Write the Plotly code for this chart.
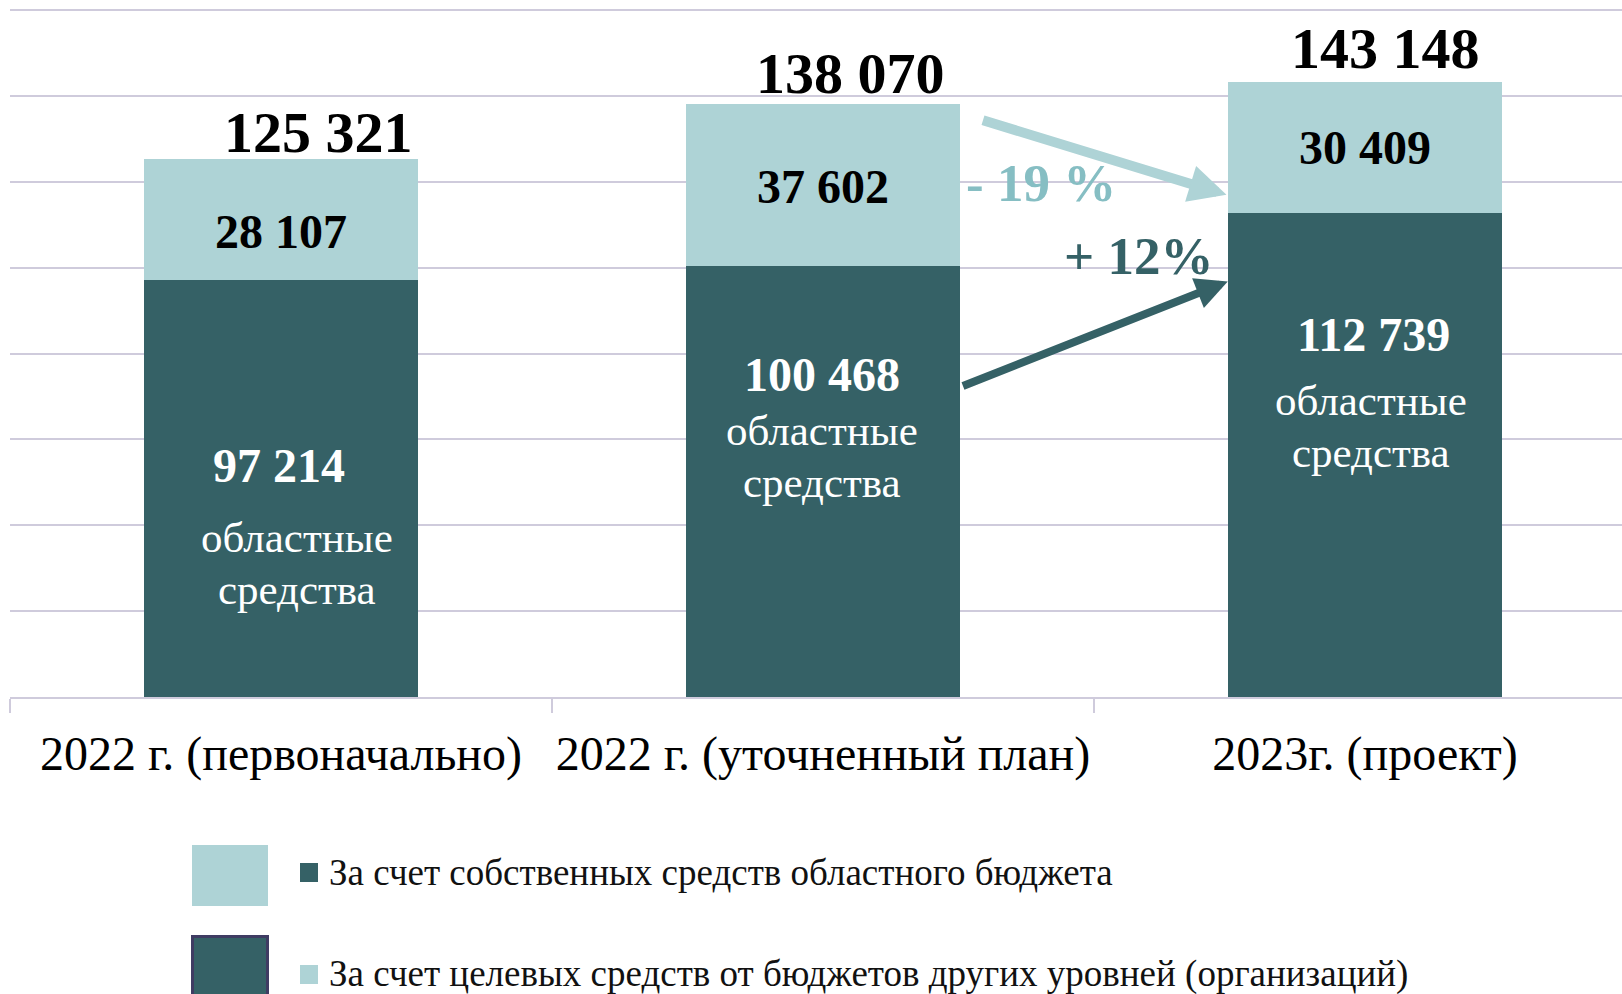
import plotly.graph_objects as go

# ---- data ----
categories = ["2022 г. (первоначально)", "2022 г. (уточненный план)", "2023г. (проект)"]
regional = [97214, 100468, 112739]      # областные средства (dark)
targeted = [28107, 37602, 30409]        # целевые средства (light)
totals = [125321, 138070, 143148]
change_labels = ["- 19 %", "+ 12%"]
legend_labels = ["За счет собственных средств областного бюджета",
                 "За счет целевых средств от бюджетов других уровней (организаций)"]
region_words = ["областные", "средства"]

# ---- style ----
DARK = "#356166"
LIGHT = "#aed3d6"
LIGHT_TXT = "#86bec3"
GRID = "#cfcbdc"
FONT = "Liberation Serif, Times New Roman, serif"

W, H = 1622, 994
ML, MR, MT, MB = 10, 0, 8, 297
PW, PH = W - ML - MR, H - MT - MB
YMAX = 160466


def px_x(p):
    return (p - ML) / PW


def px_y(p):
    return (H - MB - p) / PH


fig = go.Figure()
idx = list(range(len(categories)))
fig.add_trace(go.Bar(x=categories, y=regional, marker=dict(color=DARK, line=dict(width=0)),
                     name=legend_labels[0], showlegend=False, hoverinfo="y"))
fig.add_trace(go.Bar(x=categories, y=targeted, marker=dict(color=LIGHT, line=dict(width=0)),
                     name=legend_labels[1], showlegend=False, hoverinfo="y"))

ann = []
tot_dx = [37, 27, 20]
tot_dy = [26, 31, 34]
light_dy = [-12, -2, 0]
num_frac = [0.555, 0.748, 0.748]
num_dx = [-2, -1, 8]
word_dx = [16, -1, 6]
word_dy = [-72, -56, -66]
LINE_GAP = 52
for i in idx:
    ann.append(dict(x=i, y=totals[i], text=f"<b>{totals[i]:,}</b>".replace(",", " "),
                    xshift=tot_dx[i], yshift=tot_dy[i], showarrow=False, yanchor="middle",
                    font=dict(size=58, color="#000000", family=FONT)))
    ann.append(dict(x=i, y=regional[i] + targeted[i] / 2,
                    text=f"<b>{targeted[i]:,}</b>".replace(",", " "),
                    yshift=light_dy[i], showarrow=False, yanchor="middle",
                    font=dict(size=48, color="#000000", family=FONT)))
    ann.append(dict(x=i, y=regional[i] * num_frac[i],
                    text=f"<b>{regional[i]:,}</b>".replace(",", " "),
                    xshift=num_dx[i], showarrow=False, yanchor="middle",
                    font=dict(size=48, color="#ffffff", family=FONT)))
    for j, word in enumerate(region_words):
        ann.append(dict(x=i, y=regional[i] * num_frac[i], text=word,
                        xshift=word_dx[i], yshift=word_dy[i] - j * LINE_GAP,
                        showarrow=False, yanchor="middle",
                        font=dict(size=43, color="#ffffff", family=FONT)))

# change arrows
ann.append(dict(x=1.7443, y=116960, ax=1.2923, ay=134428, axref="x", ayref="y",
                xref="x", yref="y", text="", showarrow=True, arrowhead=2,
                arrowsize=0.75, arrowwidth=10, arrowcolor=LIGHT))
ann.append(dict(x=1.7467, y=96769, ax=1.2554, ay=72314, axref="x", ayref="y",
                xref="x", yref="y", text="", showarrow=True, arrowhead=2,
                arrowsize=0.8, arrowwidth=8, arrowcolor=DARK))
ann.append(dict(x=1.403, y=119760, text=f"<b>{change_labels[0]}</b>", showarrow=False,
                font=dict(size=53, color=LIGHT_TXT, family=FONT)))
ann.append(dict(x=1.582, y=102755, text=f"<b>{change_labels[1]}</b>", showarrow=False,
                font=dict(size=53, color=DARK, family=FONT)))

# custom legend
shapes = []
leg_y = [872, 974]
small_cols = [DARK, LIGHT]
for k in range(2):
    ann.append(dict(xref="paper", yref="paper", x=px_x(327), y=px_y(leg_y[k]),
                    xanchor="left", yanchor="middle", text=legend_labels[k], showarrow=False,
                    font=dict(size=37, color="#111111", family=FONT)))
    shapes.append(dict(type="rect", xref="paper", yref="paper",
                       x0=px_x(300), x1=px_x(318), y0=px_y(leg_y[k] - 9), y1=px_y(leg_y[k] + 10),
                       fillcolor=small_cols[k], line=dict(width=0)))
shapes.append(dict(type="rect", xref="paper", yref="paper",
                   x0=px_x(192), x1=px_x(268), y0=px_y(845), y1=px_y(906),
                   fillcolor=LIGHT, line=dict(width=0)))
shapes.append(dict(type="rect", xref="paper", yref="paper",
                   x0=px_x(192.5), x1=px_x(267.5), y0=px_y(936.5), y1=px_y(1000),
                   fillcolor=DARK, line=dict(width=3, color="#3f3c63")))

fig.update_layout(
    width=W, height=H,
    margin=dict(l=ML, r=MR, t=MT, b=MB, autoexpand=False),
    barmode="stack", bargap=0.493,
    plot_bgcolor="#ffffff", paper_bgcolor="#ffffff",
    font=dict(family=FONT, color="#000000"),
    annotations=ann, shapes=shapes, showlegend=False,
    xaxis=dict(type="category", range=[-0.5, 2.474], categoryorder="array",
               categoryarray=categories, tickangle=0, automargin=False,
               tickson="boundaries", ticks="outside", ticklen=14, tickwidth=2, tickcolor=GRID,
               showline=True, linecolor=GRID, linewidth=2, showgrid=False, zeroline=False,
               tickfont=dict(size=48, color="#000000", family=FONT), ticklabelstandoff=13,
               fixedrange=True),
    yaxis=dict(range=[0, YMAX], tick0=0, dtick=20000, showgrid=True, gridcolor=GRID, gridwidth=2,
               showticklabels=False, zeroline=False, showline=False, fixedrange=True,
               automargin=False),
)

fig.write_html("out.html", config={"displayModeBar": False},
               post_script="document.body.style.margin='0';document.body.style.overflow='hidden';")
